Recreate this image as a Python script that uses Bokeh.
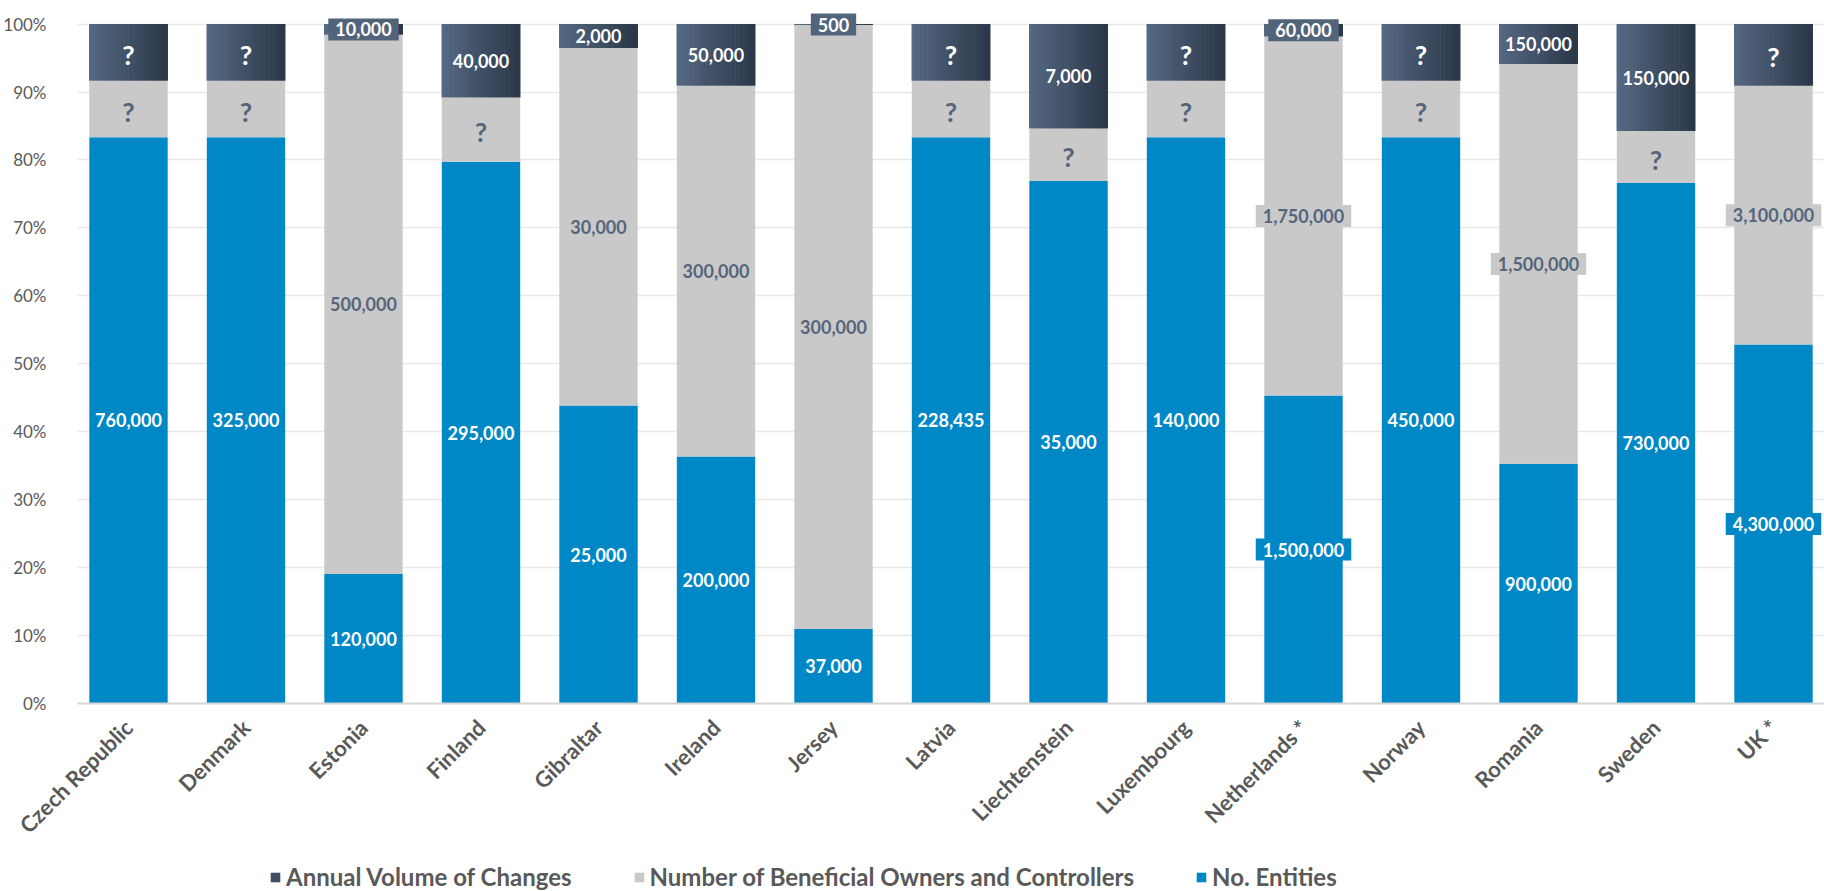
import numpy as np
from math import pi
from bokeh.plotting import figure
from bokeh.layouts import column
from bokeh.models import (ColumnDataSource, FactorRange, Range1d, FixedTicker,
                          NumeralTickFormatter, Legend, LegendItem)
from bokeh.transform import dodge
from bokeh.core.properties import value
from bokeh.embed import file_html
from bokeh.resources import INLINE

# ---------------- data ----------------
countries = ["Czech Republic", "Denmark", "Estonia", "Finland", "Gibraltar", "Ireland",
             "Jersey", "Latvia", "Liechtenstein", "Luxembourg", "Netherlands *",
             "Norway", "Romania", "Sweden", "UK *"]

# No. Entities
entities = [760000, 325000, 120000, 295000, 25000, 200000, 37000, 228435, 35000,
            140000, 1500000, 450000, 900000, 730000, 4300000]
entities_labels = ["760,000", "325,000", "120,000", "295,000", "25,000", "200,000",
                   "37,000", "228,435", "35,000", "140,000", "1,500,000", "450,000",
                   "900,000", "730,000", "4,300,000"]

# Number of Beneficial Owners and Controllers ("?" values are estimated from bar heights)
owners = [76000, 32500, 500000, 35000, 30000, 300000, 300000, 22843, 3500,
          14000, 1750000, 45000, 1500000, 73000, 3100000]
owners_labels = ["?", "?", "500,000", "?", "30,000", "300,000", "300,000", "?", "?",
                 "?", "1,750,000", "?", "1,500,000", "?", "3,100,000"]

# Annual Volume of Changes ("?" values are estimated from bar heights)
changes = [76000, 32500, 10000, 40000, 2000, 50000, 500, 22843, 7000,
           14000, 60000, 45000, 150000, 150000, 740000]
changes_labels = ["?", "?", "10,000", "40,000", "2,000", "50,000", "500", "?", "7,000",
                  "?", "60,000", "?", "150,000", "150,000", "?"]

series_names = ["Annual Volume of Changes", "Number of Beneficial Owners and Controllers",
                "No. Entities"]

# ---------------- styling ----------------
BLUE = "#0088c6"
GRAY = "#c9c9c9"
DARK_L = np.array([0x55, 0x68, 0x81])
DARK_R = np.array([0x2b, 0x38, 0x4a])
DARK_MID = "#414f64"
LABEL_DARK = "#52647a"
SLATE = "#55657c"
AX = "#595959"
FONT = "Lato"
BW = 0.667
PAD = dict(left=7, right=7, top=4, bottom=4)
W = 1824
LEFT = 75

e = np.array(entities, dtype=float)
o = np.array(owners, dtype=float)
c = np.array(changes, dtype=float)
tot = e + o + c
ep, op, cp = e / tot, o / tot, c / tot

src = ColumnDataSource(dict(
    country=countries,
    e0=np.zeros(len(countries)), e1=ep,
    o0=ep, o1=ep + op,
    c0=ep + op, c1=ep + op + cp,
))

xr = FactorRange(*countries, range_padding=-0.066, range_padding_units="absolute")
p = figure(x_range=xr, y_range=Range1d(0, 1.02),
           width=W, height=850, output_backend="svg", toolbar_location=None,
           min_border_left=LEFT, min_border_right=0, min_border_top=10,
           min_border_bottom=143)
p.outline_line_color = None
p.background_fill_color = "white"

# axes
p.yaxis.ticker = FixedTicker(ticks=[i / 10 for i in range(11)])
p.yaxis.formatter = NumeralTickFormatter(format="0%")
p.yaxis.axis_line_color = None
p.yaxis.major_tick_line_color = None
p.yaxis.minor_tick_line_color = None
p.yaxis.major_label_text_color = AX
p.yaxis.major_label_text_font = FONT
p.yaxis.major_label_text_font_size = "17px"
p.yaxis.major_label_standoff = 25

p.xaxis.axis_line_color = "#d6d6d6"
p.xaxis.axis_line_width = 2
p.xaxis.major_tick_line_color = None
p.xaxis.minor_tick_line_color = None
p.xaxis.major_label_orientation = pi / 4
p.xaxis.major_label_text_color = AX
p.xaxis.major_label_text_font = FONT
p.xaxis.major_label_text_font_style = "bold"
p.xaxis.major_label_text_font_size = "22px"
p.xaxis.major_label_standoff = 14

p.xgrid.grid_line_color = None
p.ygrid.grid_line_color = "#e8e8e8"
p.ygrid.grid_line_width = 1.5

# bars
p.vbar(x="country", bottom="e0", top="e1", width=BW, source=src,
       fill_color=BLUE, line_color=None)
p.vbar(x="country", bottom="o0", top="o1", width=BW, source=src,
       fill_color=GRAY, line_color=None)

N = 20
for i in range(N):
    t = i / (N - 1)
    rgb = (DARK_L * (1 - t) + DARK_R * t).astype(int)
    col = "#%02x%02x%02x" % tuple(rgb)
    off = -BW / 2 + (i + 0.5) * BW / N
    p.vbar(x=dodge("country", off, range=xr), bottom="c0", top="c1",
           width=BW / N * 1.15, source=src, fill_color=col, line_color=None)


# labels (centred in each segment)
def split(labels, mids, boxed_flags):
    groups = {"q": ([], [], []), "box": ([], [], []), "plain": ([], [], [])}
    for cn, lab, y, bx in zip(countries, labels, mids, boxed_flags):
        key = "q" if lab == "?" else ("box" if bx else "plain")
        groups[key][0].append(cn)
        groups[key][1].append(float(y))
        groups[key][2].append(lab)
    return {k: ColumnDataSource(dict(x=v[0], y=v[1], t=v[2])) for k, v in groups.items()}


def draw(srcs, color, box_color):
    common = dict(x="x", y="y", text="t", text_align="center", text_baseline="middle",
                  text_font=value(FONT), text_font_style="bold", text_color=color)
    p.text(source=srcs["plain"], text_font_size="18px", **common)
    p.text(source=srcs["box"], text_font_size="18px", background_fill_color=box_color,
           padding=PAD, **common)
    p.text(source=srcs["q"], text_font_size="27px", y_offset=2, **common)


e_srcs = split(entities_labels, ep / 2, [len(s) > 7 for s in entities_labels])
o_srcs = split(owners_labels, ep + op / 2, [len(s) > 7 for s in owners_labels])
c_srcs = split(changes_labels, ep + op + cp / 2, list(cp < 0.03))
draw(e_srcs, "white", BLUE)
draw(o_srcs, SLATE, GRAY)
draw(c_srcs, "white", LABEL_DARK)

# ---------------- legend strip ----------------
# same series drawn again in a strip whose y-range keeps the bars out of view;
# only the legend of this strip is visible
pl = figure(x_range=xr, y_range=Range1d(10, 11), width=W, height=41,
            output_backend="svg", toolbar_location=None, min_border=0,
            x_axis_location=None, y_axis_location=None)
pl.outline_line_color = None
pl.xgrid.grid_line_color = None
pl.ygrid.grid_line_color = None
l_c = pl.vbar(x="country", bottom="c0", top="c1", width=BW, source=src,
              fill_color=DARK_MID, line_color=None)
l_o = pl.vbar(x="country", bottom="o0", top="o1", width=BW, source=src,
              fill_color=GRAY, line_color=None)
l_e = pl.vbar(x="country", bottom="e0", top="e1", width=BW, source=src,
              fill_color=BLUE, line_color=None)

legend = Legend(items=[
    LegendItem(label=series_names[0], renderers=[l_c]),
    LegendItem(label=series_names[1], renderers=[l_o]),
    LegendItem(label=series_names[2], renderers=[l_e]),
], orientation="horizontal", location=(267 - LEFT, 0),
    border_line_color=None, background_fill_alpha=0, padding=0, margin=0,
    spacing=61, label_standoff=5, glyph_width=12, glyph_height=12,
    label_text_font=FONT, label_text_font_style="bold", label_text_font_size="24px",
    label_text_color=AX)
pl.add_layout(legend)

layout = column(p, pl, spacing=0)
open("out.html", "w").write(file_html(layout, INLINE))
